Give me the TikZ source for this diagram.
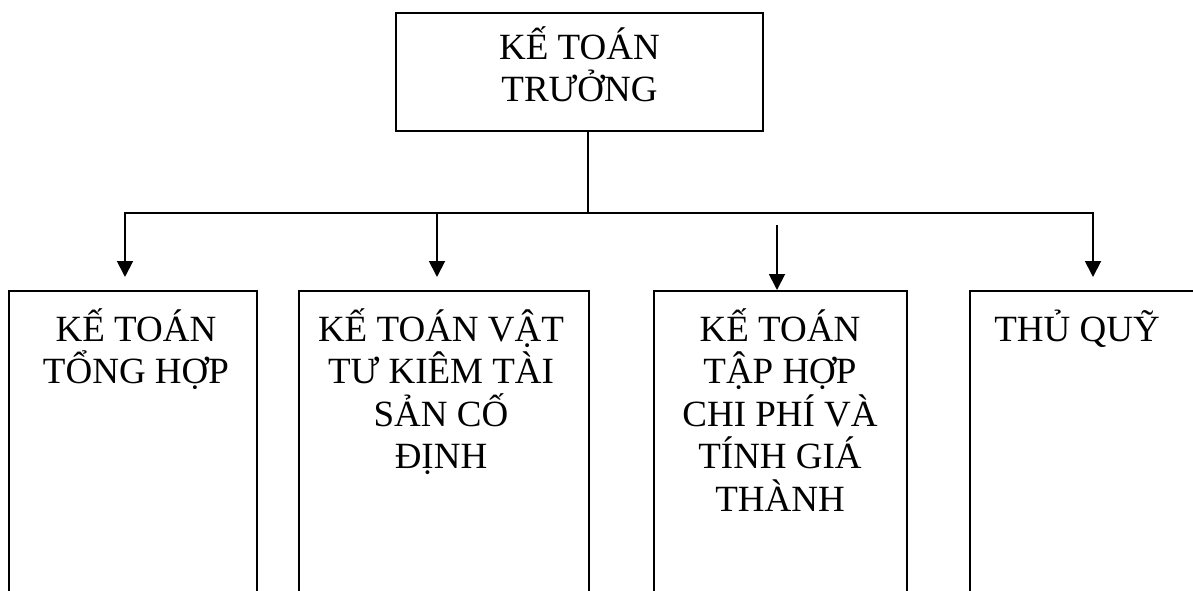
\documentclass[tikz,border=0pt]{standalone}
\usepackage{fontspec}
\setmainfont{Liberation Serif}
\usetikzlibrary{arrows.meta}
% fixed height for the first row of every label, so all labels share one baseline
\newcommand\toprow{\rule{0pt}{36pt}}
\tikzset{
  boxline/.style={draw=black, line width=1.7pt},
  headbox/.style={boxline, line width=2pt, rectangle, inner sep=0pt, minimum width=367pt, minimum height=118pt},
  unitbox/.style={boxline, rectangle, inner sep=0pt, anchor=north west, minimum height=340pt},
  caption/.style={font=\fontsize{37pt}{42.5pt}\selectfont, align=center, anchor=north, inner sep=0pt},
  conn/.style={draw=black, line width=1.9pt},
  arr/.style={conn, -{Triangle[width=16pt,length=16pt]}}
}
\begin{document}
\begin{tikzpicture}[x=1pt, y=-1pt]
  \useasboundingbox (0,0) rectangle (1193,591);
  \clip (0,0) rectangle (1193,591);

  % head of the department
  \node[headbox] (head) at (579.5,72) {};
  \node[caption] (headtxt) at (579.5,23) {\toprow KẾ TOÁN\\TRƯỞNG};

  % the four sections (their lower parts run off the page)
  \node[unitbox, minimum width=248pt] (u1) at (8,290) {};
  \node[unitbox, minimum width=290pt] (u2) at (298,290) {};
  \node[unitbox, minimum width=253pt] (u3) at (653,290) {};
  \node[unitbox, minimum width=260pt] (u4) at (969,290) {};

  \node[caption] (t1) at (136,305) {\toprow KẾ TOÁN\\TỔNG HỢP};
  \node[caption] (t2) at (441,305) {\toprow KẾ TOÁN VẬT\\TƯ KIÊM TÀI\\SẢN CỐ\\ĐỊNH};
  \node[caption] (t3) at (780,305) {\toprow KẾ TOÁN\\TẬP HỢP\\CHI PHÍ VÀ\\TÍNH GIÁ\\THÀNH};
  \node[caption] (t4) at (1077,305) {\toprow THỦ QUỸ};

  % branching points and arrow tips
  \coordinate (j)  at (588,213);
  \coordinate (h1) at (125,213);
  \coordinate (h2) at (437,213);
  \coordinate (h4) at (1093,213);
  \coordinate (s3) at (777,225);
  \coordinate (e1) at (125,277);
  \coordinate (e2) at (437,277);
  \coordinate (e4) at (1093,277);

  \draw[conn] (head.south -| j) -- (j);
  \draw[arr] (j) -- (h1) -- (e1);
  \draw[arr] (j) -- (h4) -- (e4);
  \draw[arr] (h2) -- (e2);
  \draw[arr] (s3) -- (s3 |- u3.north);
\end{tikzpicture}
\end{document}
